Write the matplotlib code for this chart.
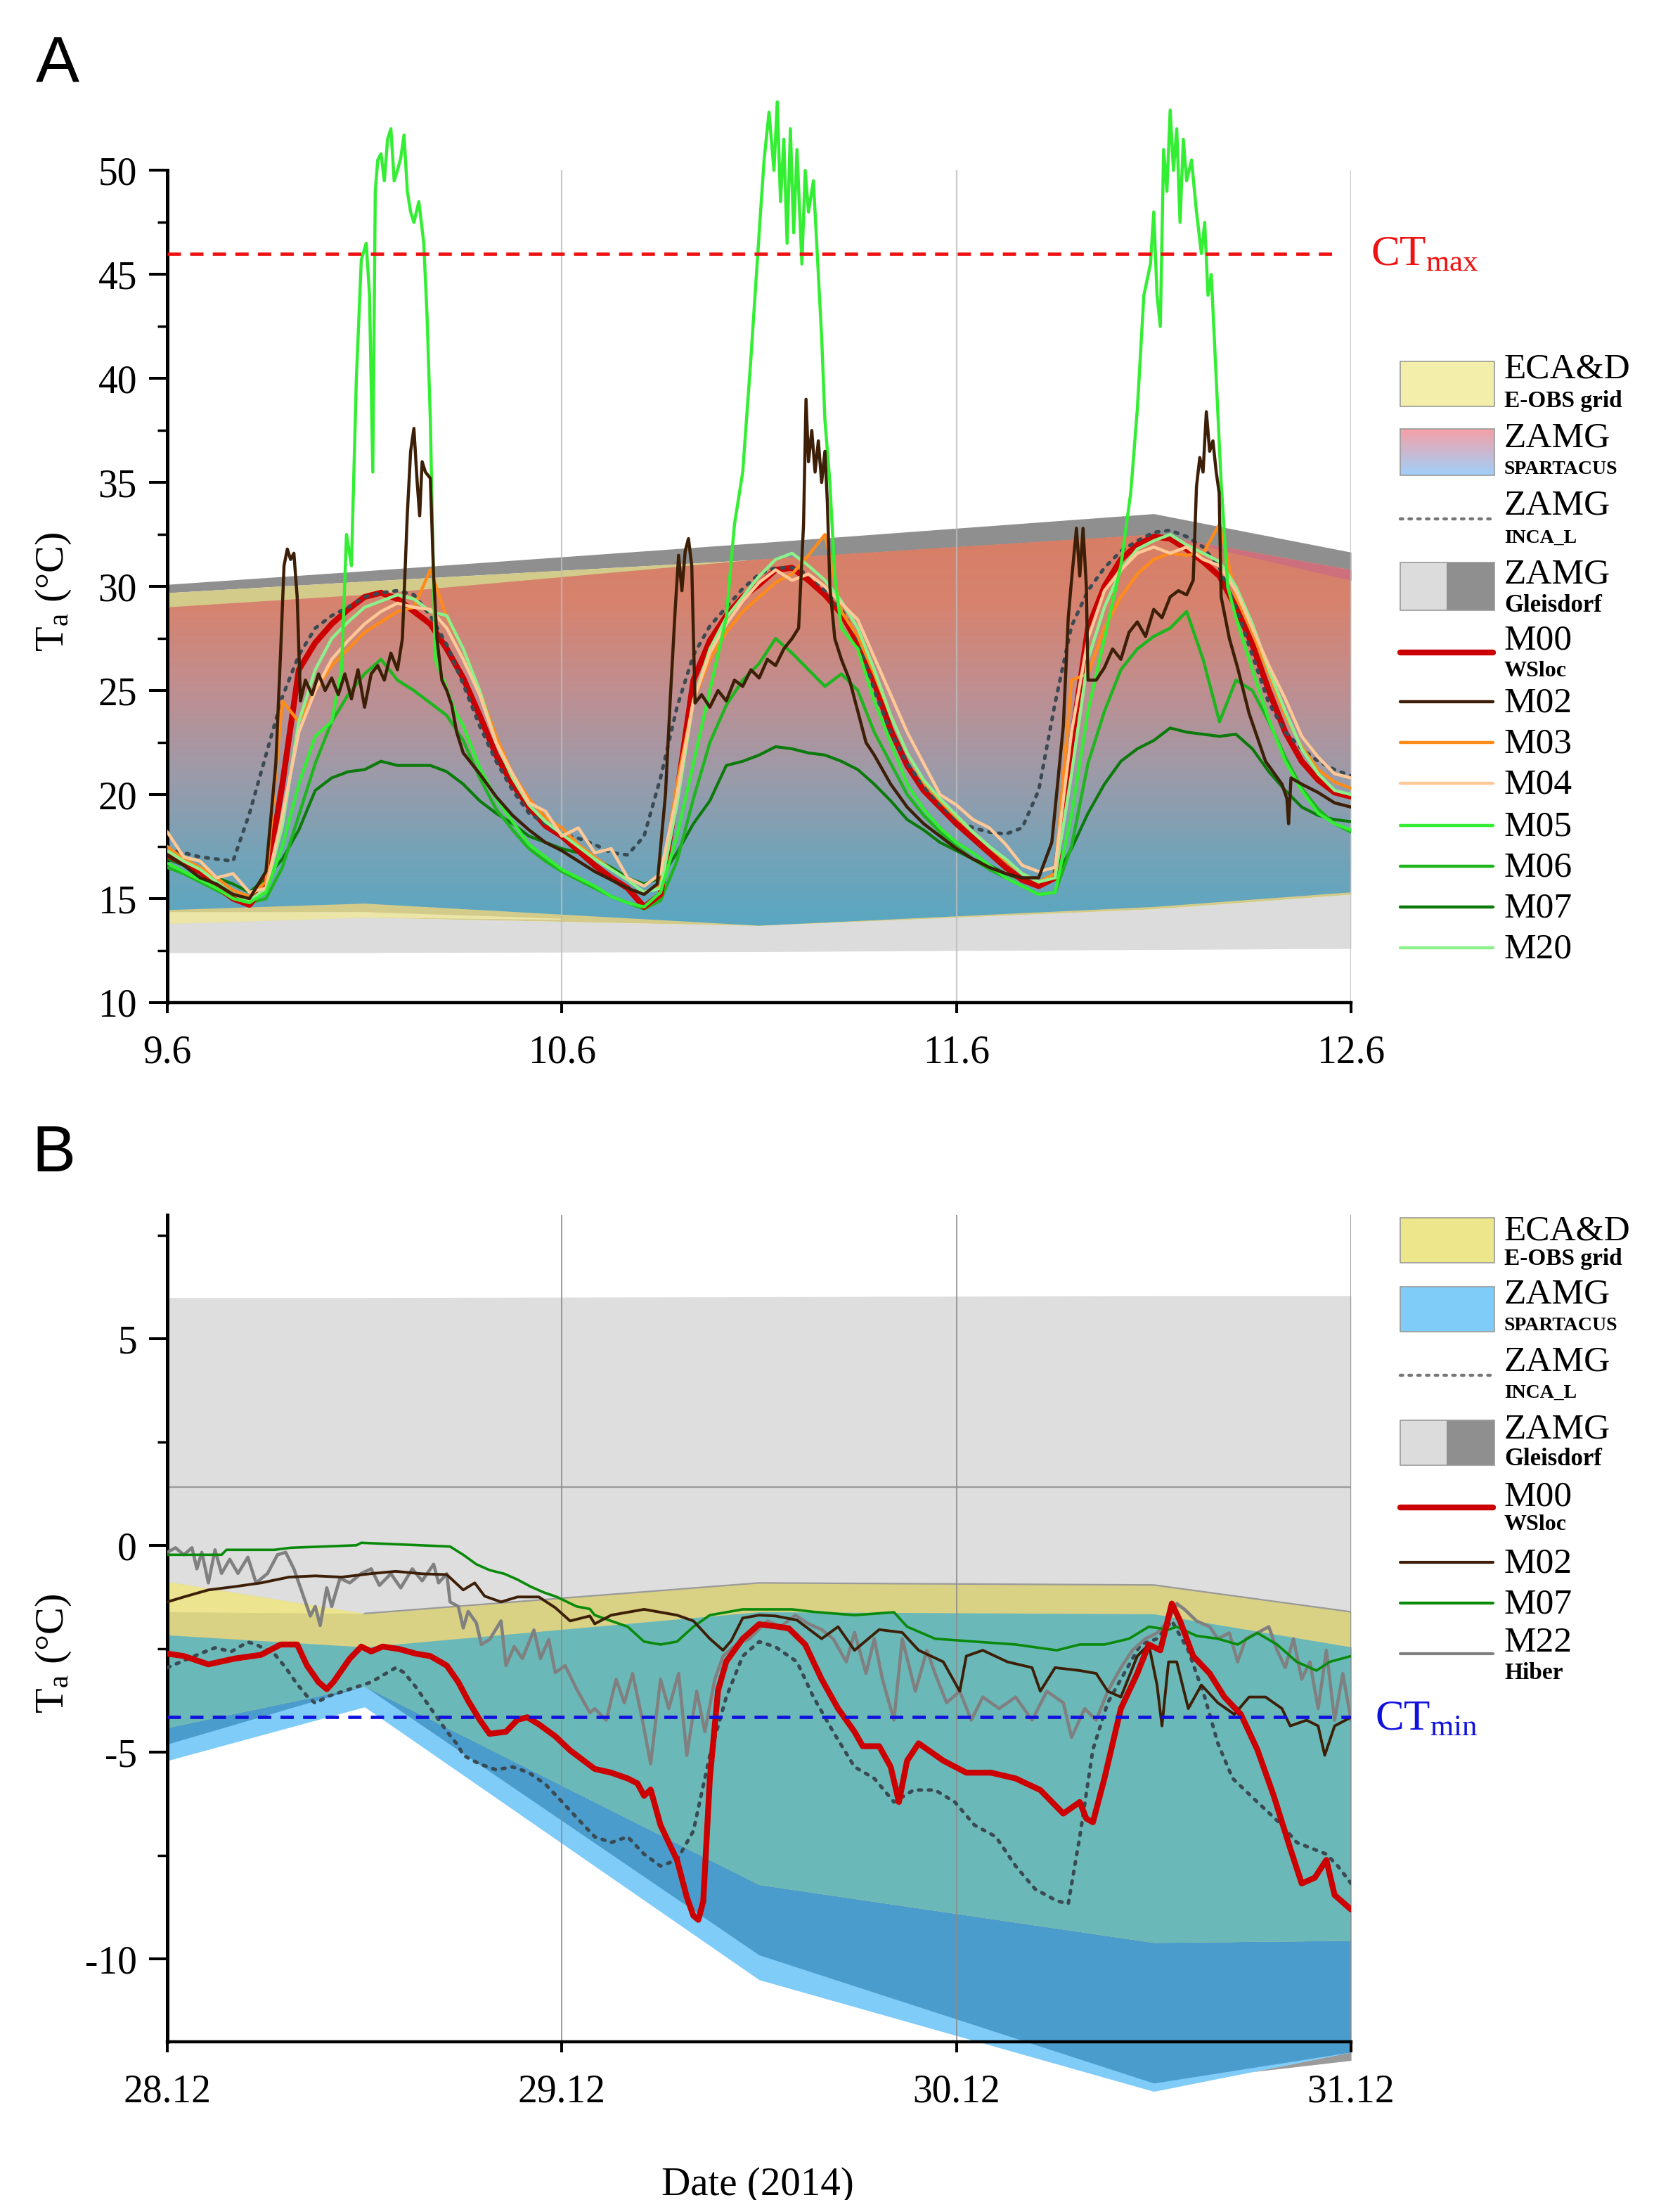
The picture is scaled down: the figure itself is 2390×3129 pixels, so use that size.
import numpy as np
import matplotlib
matplotlib.use('Agg')
import matplotlib.pyplot as plt
from matplotlib.colors import LinearSegmentedColormap
from matplotlib.patches import Rectangle

plt.rcParams['font.family'] = ['Liberation Serif', 'DejaVu Serif']
plt.rcParams['mathtext.fontset'] = 'custom'
plt.rcParams['mathtext.rm'] = 'Liberation Serif'
plt.rcParams['mathtext.it'] = 'Liberation Serif:italic'
plt.rcParams['mathtext.bf'] = 'Liberation Serif:bold'
plt.rcParams['axes.unicode_minus'] = False

W, H = 2390, 3129

# ---------------- panel A : 9.6. - 12.6.  (hours after 9.6. 00:00) ----------------
hours_A = np.arange(73)
a_ticks = [0, 24, 48, 72]
a_ticklabels = ['9.6', '10.6', '11.6', '12.6']
ct_max = 46.0

# daily gridded products (values at noon, edges at the window limits)
band_hours = [0, 12, 36, 60, 72]
a_gray_top = [30.1, 30.75, 32.1, 33.5, 31.65]
a_gray_lo = [12.4, 12.4, 12.45, 12.55, 12.6]
a_eobs_hi = [29.7, 30.25, 31.3, 32.5, 30.8]
a_eobs_lo = [13.8, 14.1, 13.7, 14.5, 15.2]
a_spart_hi = [29.0, 29.6, 31.3, 32.5, 30.8]
a_spart_lo = [14.45, 14.76, 13.7, 14.6, 15.3]
a_ly_hours = [0, 12, 24]
a_ly_lo = [13.8, 14.1, 14.0]
a_ly_hi = [14.37, 14.37, 14.05]
a_rose_hours = [60, 72]
a_rose_lo = [32.5, 30.3]
a_rose_hi = [32.5, 30.8]

a_m00 = [17.1, 16.7, 16.3, 15.6, 15.0, 14.7, 15.7, 20.5, 26.0, 27.3, 28.2, 28.9, 29.5, 29.7, 29.4, 28.8,
         28.2, 27.0, 25.6, 23.8, 21.9, 20.5, 19.4, 18.5, 18.0, 17.3, 16.6, 16.0, 15.5, 14.6, 15.2, 20.0,
         25.5, 27.4, 28.6, 29.5, 30.1, 30.8, 30.9, 30.3, 29.6, 28.7, 27.3, 25.4, 23.1, 21.4, 20.2, 19.4,
         18.6, 17.9, 17.2, 16.5, 15.9, 15.6, 16.0, 22.5, 28.0, 30.0, 31.3, 32.0, 32.4, 32.3, 31.8, 31.2,
         30.5, 29.0, 27.2, 25.0, 23.0, 21.6, 20.7, 20.1, 19.9]
a_m03 = [17.5, 16.9, 16.5, 16.0, 15.4, 15.1, 15.8, 24.5, 23.5, 25.0, 26.2, 27.0, 27.8, 28.3, 28.8, 29.0,
         30.8, 28.5, 27.0, 25.0, 22.8, 21.0, 19.8, 18.9, 18.4, 17.6, 17.0, 16.4, 15.9, 15.3, 15.6, 20.5,
         24.5, 26.5, 27.8, 28.8, 29.5, 30.2, 30.6, 31.5, 32.5, 28.8, 27.6, 25.8, 23.8, 22.0, 20.6, 19.7,
         18.9, 18.2, 17.5, 16.8, 16.2, 15.8, 16.2, 25.5, 25.8, 28.0, 29.5, 30.6, 31.3, 31.6, 31.5, 31.6,
         33.0, 29.5, 27.8, 25.8, 23.8, 22.3, 21.2, 20.6, 20.3]
a_m04 = [18.2, 17.0, 16.8, 16.0, 16.2, 15.3, 15.5, 19.0, 23.0, 25.0, 26.5, 27.4, 28.2, 28.8, 29.2, 29.0,
         28.9, 28.0, 26.5, 24.8, 22.5, 21.0, 19.6, 19.2, 18.0, 18.4, 17.2, 17.4, 16.0, 15.6, 16.2, 20.0,
         24.5, 26.8, 28.2, 29.3, 30.2, 30.8, 30.3, 30.6, 30.0, 29.2, 28.4, 26.6, 24.8, 23.0, 21.5, 20.0,
         19.5, 18.8, 18.4, 17.6, 16.6, 16.3, 16.5, 23.0, 27.5, 29.8, 30.8, 31.6, 31.9, 31.6, 31.9, 31.3,
         31.0, 29.8, 28.0, 26.2, 24.6, 22.8, 21.8, 21.0, 20.8]
a_m20 = [17.3, 16.8, 16.4, 15.8, 15.2, 14.9, 15.5, 18.5, 23.5, 26.0, 27.5, 28.3, 29.0, 29.3, 29.6, 29.4,
         28.8, 28.6, 27.0, 25.0, 22.5, 20.8, 19.5, 18.7, 18.1, 17.5, 16.9, 16.4, 15.9, 15.3, 15.5, 19.5,
         24.5, 27.0, 28.5, 29.5, 30.5, 31.3, 31.6, 31.0, 30.3, 29.3, 28.0, 26.0, 23.8, 22.0, 20.7, 19.8,
         19.0, 18.2, 17.5, 16.9, 16.2, 15.8, 16.0, 21.0, 26.5, 29.0, 30.8, 31.8, 32.2, 32.5, 32.0, 31.6,
         31.2, 30.0, 28.2, 26.0, 24.0, 22.2, 21.0, 20.2, 20.0]
a_m06 = [16.5, 16.2, 15.8, 15.4, 15.0, 14.8, 15.0, 16.5, 19.0, 21.5, 23.5, 24.8, 25.8, 26.5, 25.5, 25.0,
         24.4, 23.8, 22.6, 20.8, 19.3, 18.3, 17.4, 16.8, 16.3, 15.9, 15.5, 15.1, 14.8, 14.5, 14.9, 16.8,
         19.8, 22.5, 24.3, 25.5, 26.3, 27.5, 26.8, 26.0, 25.2, 25.8, 25.0, 23.0, 21.5, 20.0, 19.0, 18.2,
         17.5, 16.9, 16.4, 16.0, 15.6, 15.2, 15.3, 17.5, 21.5, 24.0, 26.0, 27.0, 27.6, 28.0, 28.8, 26.5,
         23.5, 25.5, 25.0, 23.5, 21.8, 20.3, 19.3, 18.6, 18.2]
a_m07 = [16.9, 16.6, 16.3, 16.0, 15.7, 15.3, 16.0, 16.9, 18.3, 20.2, 20.8, 21.1, 21.2, 21.6, 21.4, 21.4,
         21.4, 21.1, 20.5, 19.7, 19.1, 18.6, 18.0, 17.7, 17.4, 17.2, 16.9, 16.5, 16.0, 15.7, 16.0, 17.2,
         18.6, 19.7, 21.4, 21.6, 21.9, 22.3, 22.2, 22.0, 21.9, 21.6, 21.2, 20.5, 19.7, 18.8, 18.3, 17.7,
         17.3, 16.9, 16.6, 16.2, 15.9, 15.7, 16.0, 17.4, 19.1, 20.5, 21.6, 22.2, 22.6, 23.2, 23.0, 22.9,
         22.8, 22.9, 22.2, 21.1, 20.2, 19.4, 19.0, 18.8, 18.7]
a_inca = [17.4, 17.2, 17.0, 16.9, 16.8, 19.1, 21.9, 24.7, 26.7, 28.0, 28.6, 29.0, 29.5, 29.7, 29.8, 29.6,
          28.6, 27.2, 25.3, 23.3, 21.6, 20.2, 19.1, 18.6, 18.1, 17.9, 17.6, 17.2, 17.1, 18.0, 20.8, 24.2,
          26.7, 28.1, 29.0, 29.9, 30.6, 30.9, 30.9, 30.6, 29.8, 28.9, 27.5, 25.0, 23.0, 21.5, 20.4, 19.5,
          18.8, 18.4, 18.2, 18.1, 18.4, 20.2, 24.4, 28.1, 29.8, 30.9, 31.7, 32.2, 32.6, 32.7, 32.4, 31.9,
          30.9, 29.0, 26.7, 24.4, 23.0, 22.2, 21.6, 21.2, 20.9]
# spiky loggers: (hour, value)
a_m05 = [(0, 16.7), (1, 16.3), (2, 15.9), (3, 15.5), (4, 15.0), (5, 14.8), (6, 15.3), (7, 17.5), (8, 20.5),
         (9, 22.8), (10, 23.5), (10.6, 26.0), (10.9, 32.5), (11.2, 31.0), (11.5, 40.0), (11.8, 45.7),
         (12.1, 46.5), (12.3, 44.0), (12.5, 35.5), (12.65, 49.0), (12.8, 50.5), (13.0, 50.8), (13.2, 49.5),
         (13.4, 51.5), (13.6, 52.0), (13.8, 49.5), (14.0, 50.0), (14.2, 50.6), (14.4, 51.7), (14.6, 49.0),
         (14.8, 48.0), (15.0, 47.5), (15.3, 48.5), (15.6, 46.5), (15.8, 43.0), (16.0, 38.0), (16.15, 32.0),
         (16.3, 26.5), (16.8, 25.5), (17.5, 24.0), (18, 23.3), (19, 21.3), (20, 19.8), (21, 18.7), (22, 17.6),
         (23, 17.0), (24, 16.4), (25, 16.0), (26, 15.6), (27, 15.1), (28, 14.8), (29, 14.6), (30, 15.3),
         (31, 18.0), (32, 21.5), (33, 25.0), (34, 28.5), (34.5, 33.0), (35, 35.5), (35.5, 41.0), (36, 47.0),
         (36.3, 50.5), (36.6, 52.8), (36.9, 50.0), (37.1, 53.3), (37.3, 48.5), (37.5, 51.5), (37.7, 46.5),
         (37.9, 52.0), (38.1, 47.0), (38.3, 51.0), (38.6, 45.5), (38.8, 50.0), (39.0, 48.0), (39.3, 49.5),
         (39.6, 45.0), (39.8, 42.0), (40.0, 38.0), (40.3, 35.0), (40.6, 30.5), (41, 28.0), (42, 27.0),
         (43, 24.5), (44, 22.5), (45, 20.5), (46, 19.3), (47, 18.4), (48, 17.7), (49, 17.2), (50, 16.6),
         (51, 16.0), (52, 15.6), (53, 15.2), (54, 15.3), (55, 19.0), (56, 24.0), (57, 27.5), (58, 31.0),
         (58.6, 34.5), (59, 38.5), (59.4, 44.0), (59.8, 45.5), (60.0, 48.0), (60.2, 44.0), (60.4, 42.5),
         (60.6, 51.0), (60.8, 49.0), (61.0, 52.9), (61.2, 50.0), (61.4, 52.0), (61.6, 47.5), (61.8, 51.5),
         (62.0, 49.5), (62.3, 50.5), (62.6, 48.0), (62.9, 46.0), (63.1, 47.5), (63.3, 44.0), (63.5, 45.0),
         (63.8, 40.0), (64.1, 35.0), (64.5, 30.0), (65, 28.5), (66, 26.0), (67, 23.6), (68, 21.6), (69, 20.2),
         (70, 19.1), (71, 18.6), (72, 18.3)]
a_m02 = [(0, 17.1), (1, 16.6), (2, 16.0), (3, 15.7), (4, 15.2), (5, 15.0), (6, 16.3), (6.6, 21.5), (6.9, 27.0),
         (7.1, 31.0), (7.3, 31.8), (7.5, 31.3), (7.7, 31.6), (7.9, 29.5), (8.1, 24.5), (8.4, 25.5), (8.8, 24.8),
         (9.2, 25.8), (9.6, 25.0), (10.0, 25.6), (10.4, 24.8), (10.8, 25.8), (11.2, 24.6), (11.6, 26.0),
         (12.0, 24.2), (12.4, 25.8), (12.8, 26.2), (13.2, 25.5), (13.6, 26.8), (14.0, 26.0), (14.3, 27.5),
         (14.6, 33.5), (14.8, 36.5), (15.0, 37.6), (15.2, 35.0), (15.35, 33.4), (15.5, 36.0), (15.7, 35.5),
         (16.0, 35.2), (16.2, 30.5), (16.4, 27.5), (16.7, 25.5), (17.0, 25.0), (17.3, 24.3), (17.6, 23.0),
         (18, 22.0), (19, 21.0), (20, 19.9), (21, 19.0), (22, 18.3), (23, 17.7), (24, 17.3), (25, 16.8),
         (26, 16.3), (27, 15.9), (28, 15.5), (29, 15.2), (29.8, 15.7), (30.3, 20.0), (30.6, 24.7), (30.9, 29.0),
         (31.1, 31.5), (31.3, 29.8), (31.5, 31.7), (31.7, 32.3), (31.9, 31.0), (32.1, 24.4), (32.5, 24.8),
         (33, 24.2), (33.5, 25.0), (34, 24.5), (34.5, 25.5), (35, 25.2), (35.5, 26.0), (36, 25.6), (36.5, 26.5),
         (37, 26.2), (37.5, 27.0), (38, 27.5), (38.4, 28.0), (38.7, 33.0), (38.85, 39.0), (39.0, 36.0),
         (39.2, 37.5), (39.4, 35.5), (39.6, 37.0), (39.8, 35.0), (40.0, 36.5), (40.15, 34.0), (40.3, 30.0),
         (40.6, 27.5), (41, 26.5), (41.5, 25.5), (42, 24.0), (42.5, 22.5), (43, 21.9), (44, 20.5), (45, 19.4),
         (46, 18.6), (47, 18.0), (48, 17.4), (49, 16.9), (50, 16.5), (51, 16.2), (52, 16.0), (53, 16.0),
         (53.8, 17.7), (54.5, 23.3), (54.8, 28.5), (55.0, 30.3), (55.3, 32.8), (55.5, 30.5), (55.7, 32.8),
         (55.9, 30.0), (56.0, 25.5), (56.5, 25.5), (57, 26.1), (57.5, 27.0), (58, 26.5), (58.5, 27.8),
         (59, 28.3), (59.5, 27.6), (60, 28.9), (60.5, 28.5), (61, 29.5), (61.5, 29.8), (62, 29.6), (62.4, 30.3),
         (62.6, 34.8), (62.8, 36.2), (63.0, 35.5), (63.2, 38.4), (63.4, 36.5), (63.6, 37.0), (63.8, 35.5),
         (63.98, 34.5), (64.1, 29.5), (64.6, 27.5), (65.1, 26.1), (65.8, 23.9), (66.8, 21.6), (67.8, 20.5),
         (68.1, 19.8), (68.2, 18.6), (68.35, 20.8), (69, 20.5), (70, 20.1), (71, 19.6), (72, 19.4)]

# ---------------- panel B : 28.12. - 31.12. ----------------
b_ticks = [0, 24, 48, 72]
b_ticklabels = ['28.12', '29.12', '30.12', '31.12']
ct_min = -4.15
b_gleis_mean = 1.42

b_gray_hi = [6.0, 6.0, 6.02, 6.05, 6.05]
b_gray_lo = [-4.8, -3.4, -9.9, -13.0, -12.45]
b_spart_hi = [-2.16, -2.45, -1.6, -1.65, -2.45]
b_spart_lo = [-5.2, -3.9, -10.5, -13.2, -12.25]
b_eobs_hi = [-0.87, -1.64, -0.9, -0.95, -1.6]
b_eobs_lo = [-4.4, -3.4, -8.2, -9.6, -9.55]
b_ly_hours = [0, 12]
b_ly_lo = [-1.6, -1.64]
b_ly_hi = [-0.87, -1.64]

b_m00 = [(0, -2.61), (1, -2.67), (2.5, -2.87), (4.1, -2.73), (5.7, -2.64), (6.9, -2.39), (7.9, -2.39),
         (8.5, -2.9), (9.2, -3.3), (9.7, -3.47), (10.1, -3.3), (11.1, -2.73), (11.8, -2.44), (12.4, -2.56),
         (13.1, -2.44), (14.1, -2.5), (15.1, -2.61), (16, -2.67), (17, -2.9), (17.7, -3.3), (18.3, -3.75),
         (19, -4.21), (19.6, -4.55), (20.6, -4.5), (21.3, -4.21), (21.9, -4.15), (22.6, -4.32), (23.6, -4.61),
         (24.5, -4.95), (25, -5.1), (26, -5.4), (27, -5.49), (28, -5.63), (28.6, -5.75), (29, -6.05),
         (29.4, -5.9), (30, -6.76), (31, -7.6), (31.6, -8.5), (32, -8.95), (32.3, -9.05), (32.6, -8.6),
         (33, -5.63), (33.5, -3.5), (34, -2.8), (35, -2.25), (36, -1.9), (37, -1.95), (37.8, -2.0),
         (38.8, -2.39), (39.8, -3.23), (40.8, -3.94), (41.8, -4.5), (42.3, -4.85), (43.3, -4.85), (44, -5.35),
         (44.5, -6.2), (45, -5.2), (45.7, -4.78), (47.2, -5.2), (48.6, -5.49), (50.1, -5.49), (51.6, -5.63),
         (53.1, -5.91), (54.5, -6.48), (55.5, -6.2), (55.9, -6.6), (56.3, -6.69), (57, -5.63), (58, -3.94),
         (59, -3.09), (59.7, -2.39), (60.4, -2.53), (61.1, -1.4), (61.6, -1.82), (62.4, -2.67), (63.4, -3.09),
         (64.3, -3.66), (65.3, -4.08), (66.3, -4.93), (67.3, -6.05), (68.3, -7.32), (69, -8.17), (69.8, -8.03),
         (70.5, -7.6), (71, -8.45), (72, -8.8)]
b_m02 = [(0, -1.36), (1, -1.24), (2.5, -1.07), (4.1, -0.99), (5.7, -0.9), (7.4, -0.76), (9, -0.73),
         (10.6, -0.76), (12.3, -0.68), (13.9, -0.62), (15.5, -0.68), (17, -0.7), (18, -1.07), (18.7, -0.9),
         (19.3, -1.22), (20.3, -1.36), (21.3, -1.24), (22.6, -1.24), (23.6, -1.5), (24.5, -1.82), (25.7, -1.7),
         (26, -1.89), (27, -1.68), (28, -1.61), (29, -1.54), (30, -1.61), (31, -1.68), (32, -1.82), (33, -2.25),
         (33.8, -2.53), (34.3, -2.3), (35, -1.75), (36, -1.68), (37, -1.7), (38.3, -1.8), (39.8, -2.25),
         (40.8, -1.96), (41.8, -2.53), (43.3, -2.03), (44.7, -2.1), (45.7, -2.53), (47.2, -2.81), (48.2, -3.52),
         (48.6, -2.67), (49.6, -2.53), (51.1, -2.81), (52.6, -2.95), (53.1, -3.52), (54, -2.95), (55.5, -3.02),
         (56.5, -3.09), (57.2, -3.52), (58, -3.66), (59, -2.67), (59.7, -2.39), (60.2, -3.37), (60.5, -4.36),
         (60.9, -2.81), (61.4, -2.81), (62.1, -3.94), (62.9, -3.37), (63.9, -3.8), (64.9, -4.08), (65.8, -3.66),
         (66.8, -3.66), (67.8, -3.94), (68.3, -4.36), (69.3, -4.22), (70, -4.36), (70.4, -5.07), (71, -4.36),
         (72, -4.15)]
b_m07 = [(0, -0.22), (3.3, -0.22), (3.6, -0.1), (6.5, -0.1), (7.5, -0.05), (11.5, 0.01), (11.8, 0.07),
         (17.2, -0.02), (18, -0.22), (18.8, -0.45), (19.6, -0.59), (20.5, -0.68), (21.3, -0.82), (22.1, -0.99),
         (22.9, -1.13), (23.7, -1.24), (24.9, -1.47), (25.7, -1.53), (26, -1.68), (27, -1.82), (28, -1.96),
         (29, -2.32), (30, -2.39), (31, -2.32), (32, -1.96), (33, -1.68), (34, -1.61), (35, -1.54), (36, -1.54),
         (38, -1.54), (39.3, -1.6), (41.8, -1.68), (44.2, -1.61), (45, -1.96), (46.7, -2.25), (49.1, -2.32),
         (51.6, -2.39), (54.1, -2.53), (55.5, -2.39), (57, -2.39), (58.5, -2.25), (59.7, -1.96), (60.9, -2.03),
         (61.4, -1.96), (62.6, -2.18), (63.9, -2.25), (65.1, -2.39), (66.3, -2.11), (67.5, -2.39), (68.7, -2.81),
         (69.9, -3.02), (70.7, -2.81), (72, -2.67)]
b_m22 = [(0, -0.16), (0.5, -0.05), (1.0, -0.22), (1.5, -0.05), (1.8, -0.56), (2.1, -0.16), (2.5, -0.9),
         (2.9, -0.1), (3.3, -0.67), (3.8, -0.33), (4.3, -0.67), (4.9, -0.28), (5.4, -0.9), (6.1, -0.67),
         (6.7, -0.22), (7.2, -0.16), (7.7, -0.56), (8.2, -1.13), (8.7, -1.7), (9.0, -1.47), (9.3, -1.93),
         (9.7, -1.02), (10.0, -1.47), (10.5, -0.79), (11.1, -0.9), (11.8, -0.67), (12.4, -0.56), (12.9, -0.96),
         (13.6, -0.68), (14.2, -1.02), (14.9, -0.56), (15.5, -0.85), (16.2, -0.45), (16.5, -0.9), (17.0, -0.68),
         (17.2, -1.36), (17.7, -1.47), (18.0, -1.99), (18.3, -1.59), (18.8, -1.87), (19.1, -2.39), (19.6, -2.27),
         (20.3, -1.82), (20.6, -2.9), (21.1, -2.44), (21.6, -2.73), (22.3, -2.04), (22.7, -2.73), (23.2, -2.27),
         (23.6, -3.07), (24.2, -2.9), (24.9, -3.47), (25.7, -4.04), (26.0, -3.94), (26.7, -4.22), (27.3, -3.23),
         (27.8, -3.8), (28.3, -3.09), (28.9, -4.22), (29.4, -5.28), (30.0, -3.23), (30.5, -3.94), (31.1, -3.09),
         (31.6, -5.07), (32.2, -3.52), (32.7, -4.5), (33.3, -3.23), (33.8, -2.67), (34.6, -2.39), (35.4, -2.25),
         (36.5, -1.82), (37.3, -1.96), (38.2, -1.68), (39.0, -1.89), (39.8, -2.03), (40.5, -2.25), (41.3, -2.81),
         (41.8, -2.1), (42.5, -3.09), (43.0, -2.25), (43.5, -3.23), (44.2, -4.22), (44.7, -2.25), (45.5, -3.52),
         (46.2, -2.53), (46.7, -3.09), (47.4, -3.8), (48.2, -3.52), (48.9, -4.22), (49.6, -3.66), (50.6, -3.94),
         (51.6, -3.66), (52.6, -4.22), (53.5, -3.52), (54.5, -3.8), (55.0, -4.64), (55.8, -3.94), (56.5, -4.22),
         (57.2, -3.52), (58.0, -2.95), (58.7, -2.53), (59.5, -2.25), (60.2, -2.11), (60.9, -1.82), (61.4, -1.4),
         (61.9, -1.55), (62.6, -1.82), (63.4, -1.96), (63.9, -2.25), (64.6, -2.11), (65.1, -2.81), (65.6, -2.25),
         (66.3, -2.11), (67.0, -1.96), (67.5, -2.53), (68.0, -2.95), (68.5, -2.25), (69.0, -3.23), (69.5, -2.81),
         (70.0, -3.94), (70.5, -2.53), (71.0, -4.22), (71.5, -3.09), (72.0, -4.22)]
b_inca = [(0, -2.95), (1, -2.78), (2, -2.61), (2.9, -2.47), (3.9, -2.56), (4.9, -2.33), (5.4, -2.39),
          (6.5, -2.61), (7.2, -2.95), (7.9, -3.35), (8.5, -3.64), (9, -3.81), (9.8, -3.64), (11.1, -3.47),
          (12.4, -3.3), (13.9, -2.95), (14.4, -3.07), (15.1, -3.41), (15.7, -3.75), (16.4, -4.15), (17, -4.49),
          (17.7, -4.84), (18, -5.07), (19, -5.28), (20, -5.42), (21, -5.35), (22, -5.49), (23, -5.77),
          (24, -6.19), (25, -6.62), (26, -7.04), (27, -7.18), (28, -7.04), (29, -7.46), (30, -7.75), (31, -7.6),
          (32, -6.9), (33, -5.07), (34, -3.66), (35, -2.67), (36, -2.32), (37, -2.45), (38.3, -2.81),
          (39.3, -3.66), (40.5, -4.5), (41.8, -5.35), (43, -5.63), (44.2, -6.2), (45.4, -5.91), (46.7, -5.91),
          (47.9, -6.2), (49.1, -6.76), (50.4, -7.04), (51.6, -7.75), (52.8, -8.31), (54.1, -8.59), (54.8, -8.66),
          (55.5, -7.04), (56.3, -4.93), (57.2, -3.8), (58.2, -3.09), (59.2, -2.39), (60.2, -2.25), (61.1, -1.82),
          (62.1, -2.53), (63.1, -3.66), (63.9, -4.78), (64.8, -5.63), (66.3, -6.2), (67.8, -6.76), (68.7, -7.18),
          (70.5, -7.46), (71.2, -7.75), (72, -8.17)]

# colours
C_M00 = '#cc0000'
C_M02 = '#3d1f08'
C_M03 = '#ff8c1a'
C_M04 = '#ffc896'
C_M05 = '#33ee33'
C_M06 = '#1fb51f'
C_M07 = '#0b7a0b'
C_M07B = '#0a8a0a'
C_M20 = '#8cf08c'
C_M22 = '#808080'
C_INCA = '#3a4a52'

fig = plt.figure(figsize=(W / 100, H / 100), dpi=100)


def px_axes(x0, y0, x1, y1):
    return fig.add_axes([x0 / W, 1 - y1 / H, (x1 - x0) / W, (y1 - y0) / H])


def style_axes(ax, ybounds, ticks, ticklabels, major, minor):
    for s in ['top', 'right']:
        ax.spines[s].set_visible(False)
    ax.spines['left'].set_linewidth(3.6)
    ax.spines['bottom'].set_linewidth(3.2)
    ax.spines['left'].set_bounds(*ybounds)
    ax.set_xlim(0, 72)
    ax.set_xticks(ticks)
    ax.set_xticklabels(ticklabels)
    ax.set_yticks(major)
    ax.set_yticks(minor, minor=True)
    ax.tick_params(axis='y', which='major', direction='out', length=19, width=2.9, labelsize=40, pad=12)
    ax.tick_params(axis='y', which='minor', direction='out', length=10, width=2.5)
    ax.tick_params(axis='x', which='major', direction='out', length=11, width=2.9, labelsize=40, pad=22)
    ax.set_facecolor('none')


def xy(pairs):
    arr = np.array(pairs, dtype=float)
    return arr[:, 0], arr[:, 1]


# ================= panel A =================
axA = px_axes(238, 124, 1922, 1426)

axA.fill_between(band_hours, a_gray_lo, a_eobs_lo, color='#dcdcdc', lw=0, zorder=1)
axA.fill_between(band_hours, a_eobs_hi, a_gray_top, color='#8f8f8f', lw=0, zorder=1)
axA.fill_between(band_hours, a_eobs_lo, a_eobs_hi, color='#d3cb8a', lw=0, zorder=1.1)
axA.fill_between(a_ly_hours, a_ly_lo, a_ly_hi, color='#ebe5a8', lw=0, zorder=1.2)

spart_cmap = LinearSegmentedColormap.from_list(
    'spart', [(0.0, '#58a7c2'), (0.18, '#74a3b8'), (0.38, '#9e9aa8'),
              (0.58, '#c08e90'), (0.78, '#d6836f'), (1.0, '#d97c62')])
clip_poly = axA.fill_between(band_hours, a_spart_lo, a_spart_hi, facecolor='none', edgecolor='none', zorder=1.3)
grad = np.linspace(0, 1, 256).reshape(-1, 1)
img = axA.imshow(grad, extent=[0, 72, 13.5, 33.5], origin='lower', aspect='auto', cmap=spart_cmap,
                 interpolation='bilinear', zorder=1.3)
img.set_clip_path(clip_poly.get_paths()[0], transform=axA.transData)
axA.fill_between(a_rose_hours, a_rose_lo, a_rose_hi, color='#cd6f7d', lw=0, zorder=1.4)

axA.vlines(a_ticks[1:], 10, 50, color='#bdbdbd', lw=1.6, alpha=0.8, zorder=2)

axA.plot(hours_A, a_m07, color=C_M07, lw=3.0, zorder=4)
axA.plot(hours_A, a_m06, color=C_M06, lw=3.2, zorder=4.1)
axA.plot(hours_A, a_m00, color=C_M00, lw=6.0, zorder=4.2, solid_capstyle='round')
axA.plot(hours_A, a_inca, color=C_INCA, lw=3.6, linestyle=(0, (0.8, 2.0)), dash_capstyle='round', zorder=4.3)
axA.plot(hours_A, a_m03, color=C_M03, lw=3.2, zorder=4.4)
axA.plot(hours_A, a_m20, color=C_M20, lw=3.2, zorder=4.5)
axA.plot(hours_A, a_m04, color=C_M04, lw=3.2, zorder=4.6)
t, v = xy(a_m05)
axA.plot(t, v, color=C_M05, lw=3.2, zorder=4.7)
t, v = xy(a_m02)
axA.plot(t, v, color=C_M02, lw=3.2, zorder=4.8)

axA.plot([0, 71], [ct_max, ct_max], color='#ee1111', lw=3.4, linestyle=(0, (4, 2.8)), zorder=10)

style_axes(axA, (10, 50), a_ticks, a_ticklabels, np.arange(10, 51, 5), np.arange(12.5, 50, 5))
axA.set_ylim(10, 54)

# ================= panel B =================
axB = px_axes(238, 1728, 1922, 2904)

gray_lo = np.array(b_gray_lo)
spart_lo = np.array(b_spart_lo)
spart_hi = np.array(b_spart_hi)
eobs_lo = np.array(b_eobs_lo)
eobs_hi = np.array(b_eobs_hi)

axB.fill_between(band_hours, gray_lo, b_gray_hi, color='#dedede', lw=0, zorder=1, clip_on=False)
axB.fill_between(band_hours, gray_lo, spart_lo, where=gray_lo < spart_lo, interpolate=True,
                 color='#9a9a9a', lw=0, zorder=1.05, clip_on=False)
axB.fill_between(band_hours, spart_lo, spart_hi, color='#80ccf8', lw=0, zorder=1.1, clip_on=False)
axB.fill_between(band_hours, np.maximum(spart_lo, gray_lo), spart_hi, color='#4a9ccc', lw=0, zorder=1.2,
                 clip_on=False)
axB.fill_between(band_hours, eobs_lo, eobs_hi, color='#d9d184', lw=0, zorder=1.3)
axB.fill_between(b_ly_hours, b_ly_lo, b_ly_hi, color='#ece48e', lw=0, zorder=1.35)
axB.fill_between(band_hours, np.maximum(eobs_lo, spart_lo), np.minimum(eobs_hi, spart_hi),
                 color='#6bb8b9', lw=0, zorder=1.4)
axB.plot(band_hours[1:], eobs_hi[1:], color='#9a9a9a', lw=1.6, zorder=1.5)

axB.axhline(b_gleis_mean, color='#9a9a9a', lw=1.6, zorder=2)
axB.vlines(b_ticks[1:], -12, 8, color='#8c8c8c', lw=1.2, zorder=2)

t, v = xy(b_inca)
axB.plot(t, v, color=C_INCA, lw=3.6, linestyle=(0, (0.8, 2.0)), dash_capstyle='round', zorder=4)
t, v = xy(b_m22)
axB.plot(t, v, color=C_M22, lw=3.3, zorder=4.1)
t, v = xy(b_m07)
axB.plot(t, v, color=C_M07B, lw=2.6, zorder=4.2)
t, v = xy(b_m02)
axB.plot(t, v, color=C_M02, lw=2.8, zorder=4.3)
t, v = xy(b_m00)
axB.plot(t, v, color=C_M00, lw=6.0, zorder=4.4, solid_capstyle='round')

axB.plot([0, 72], [ct_min, ct_min], color='#1111dd', lw=3.4, linestyle=(0, (4, 2.8)), zorder=10)

style_axes(axB, (-12, 8), b_ticks, b_ticklabels, [-10, -5, 0, 5], [-7.5, -2.5, 2.5, 7.5])
axB.set_ylim(-12, 8)

# ================= overlay: labels and legends (pixel coordinates) =================
ov = fig.add_axes([0, 0, 1, 1])
ov.set_xlim(0, W)
ov.set_ylim(H, 0)
ov.axis('off')
ov.set_zorder(20)

ov.text(82, 92, 'A', fontsize=67, family=['Liberation Sans', 'DejaVu Sans'], ha='center', va='center')
ov.text(76, 1642, 'B', fontsize=67, family=['Liberation Sans', 'DejaVu Sans'], ha='center', va='center')
ylab = r'T$_{\mathrm{a}}$ (°C)'
ov.text(76, 842, ylab, fontsize=42, rotation=90, ha='center', va='center')
ov.text(76, 2352, ylab, fontsize=42, rotation=90, ha='center', va='center')
ov.text(1078, 3108, 'Date (2014)', fontsize=41, ha='center', va='center')
ov.text(1950, 362, r'CT$_{\mathrm{max}}$', fontsize=44, color='#ee1111', ha='left', va='center')
ov.text(1956, 2446, r'CT$_{\mathrm{min}}$', fontsize=44, color='#1111dd', ha='left', va='center')

LX0, LX1, TX = 1992, 2126, 2140


def leg_text(main, sub, y_main, y_sub, sub_size=24):
    if sub:
        ov.text(TX, y_main - 3, main, fontsize=37, ha='left', va='center')
        ov.text(TX, y_sub + 5, sub, fontsize=sub_size, fontweight='bold', ha='left', va='center')
    else:
        ov.text(TX, y_main, main, fontsize=37, ha='left', va='center')


def leg_box(y0, y1, color):
    ov.add_patch(Rectangle((LX0, y0), LX1 - LX0, y1 - y0, facecolor=color, edgecolor='#9a9a9a', lw=1.2))


def leg_gleis(y0, y1):
    mid = 2058
    ov.add_patch(Rectangle((LX0, y0), mid - LX0, y1 - y0, facecolor='#dcdcdc', edgecolor='none'))
    ov.add_patch(Rectangle((mid, y0), LX1 - mid, y1 - y0, facecolor='#8f8f8f', edgecolor='none'))
    ov.add_patch(Rectangle((LX0, y0), LX1 - LX0, y1 - y0, facecolor='none', edgecolor='#9a9a9a', lw=1.2))


def leg_line(y, color, lw, dotted=False):
    if dotted:
        ov.plot([1992, 2122], [y, y], color='#777777', lw=3.2, linestyle=(0, (0.8, 2.0)), dash_capstyle='round')
    else:
        ov.plot([1992, 2124], [y, y], color=color, lw=lw, solid_capstyle='round')


# legend A
leg_box(514, 578, '#f3eeaa')
leg_text('ECA&D', 'E-OBS grid', 528, 566, 24)
leg_cmap = LinearSegmentedColormap.from_list('legspart', ['#9fd0fa', '#f6a0a6'])
ov.imshow(grad, extent=[LX0, LX1, 676, 610], origin='lower', aspect='auto', cmap=leg_cmap, zorder=1)
ov.add_patch(Rectangle((LX0, 610), LX1 - LX0, 66, facecolor='none', edgecolor='#9a9a9a', lw=1.2, zorder=2))
leg_text('ZAMG', 'SPARTACUS', 626, 662, 20)
leg_line(738, None, None, dotted=True)
leg_text('ZAMG', 'INCA_L', 722, 760, 20)
leg_gleis(800, 868)
leg_text('ZAMG', 'Gleisdorf', 820, 856, 25)
leg_line(928, C_M00, 6.0)
leg_text('M00', 'WSloc', 914, 950, 23)
for y, col, name in [(998, C_M02, 'M02'), (1056, C_M03, 'M03'), (1114, C_M04, 'M04'), (1174, C_M05, 'M05'),
                     (1232, C_M06, 'M06'), (1290, C_M07, 'M07'), (1348, C_M20, 'M20')]:
    leg_line(y, col, 3.2)
    leg_text(name, None, y + 2, None)

# legend B
leg_box(1732, 1796, '#ede68a')
leg_text('ECA&D', 'E-OBS grid', 1754, 1786, 24)
leg_box(1830, 1894, '#80ccf8')
leg_text('ZAMG', 'SPARTACUS', 1844, 1880, 20)
leg_line(1956, None, None, dotted=True)
leg_text('ZAMG', 'INCA_L', 1940, 1976, 20)
leg_gleis(2020, 2084)
leg_text('ZAMG', 'Gleisdorf', 2036, 2070, 25)
leg_line(2144, C_M00, 6.0)
leg_text('M00', 'WSloc', 2132, 2164, 23)
leg_line(2222, C_M02, 3.0)
leg_text('M02', None, 2224, None)
leg_line(2280, C_M07B, 3.0)
leg_text('M07', None, 2282, None)
leg_line(2352, C_M22, 3.0)
leg_text('M22', 'Hiber', 2340, 2374, 24)

ov.set_xlim(0, W)
ov.set_ylim(H, 0)

fig.savefig('out.png', dpi=100)
